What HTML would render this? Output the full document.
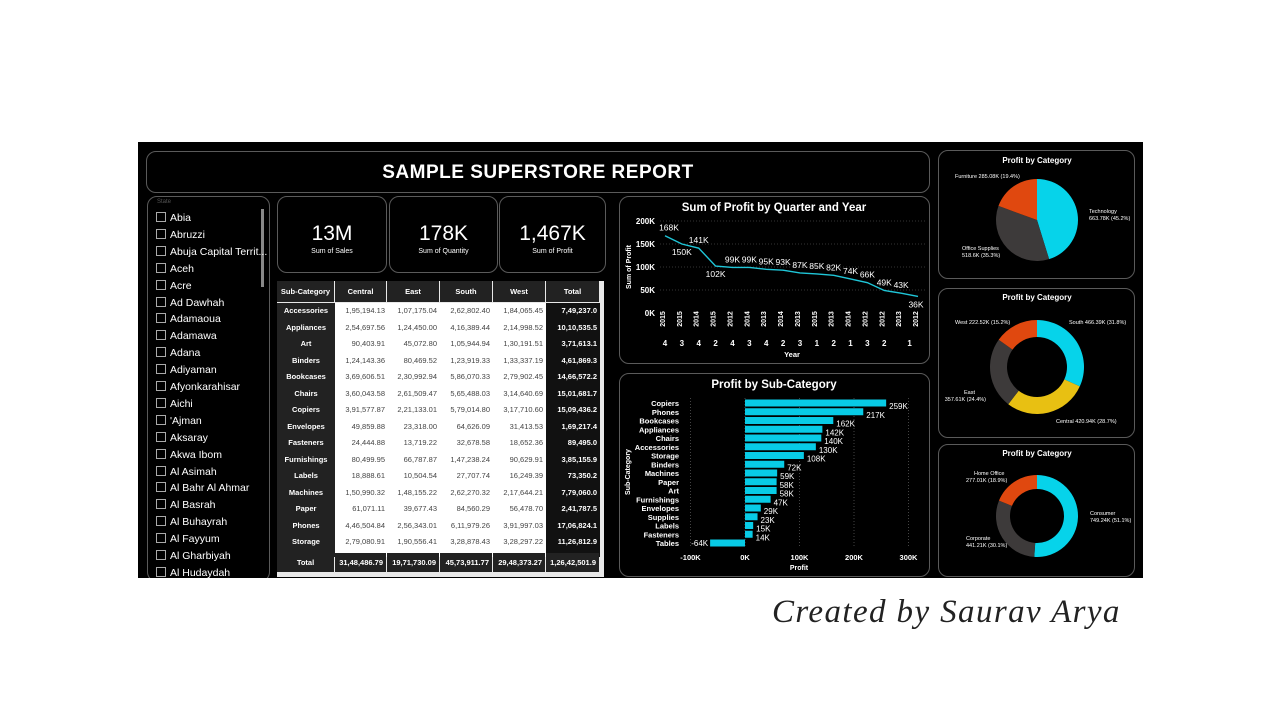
<!DOCTYPE html>
<html><head><meta charset="utf-8">
<style>
body{margin:0;width:1280px;height:720px;background:#fff;position:relative;overflow:hidden;font-family:"Liberation Sans",sans-serif}
.dash{position:absolute;left:138px;top:142px;width:1005px;height:436px;background:#000}
.box{position:absolute;border:1px solid #5a5a5a;border-radius:10px;box-sizing:border-box}
.t{position:absolute;color:#fff;white-space:nowrap}
#cap{position:absolute;left:772px;top:594px;font-family:"Liberation Serif",serif;font-style:italic;font-size:33px;color:#222;letter-spacing:1.4px}
svg text{font-family:"Liberation Sans",sans-serif}
</style></head><body>
<div class="dash"></div>
<div class="box" style="left:146px;top:151px;width:784px;height:42px">
<div class="t" style="left:0;right:0;text-align:center;top:10px;font-size:19px;font-weight:bold;letter-spacing:0.5px">SAMPLE SUPERSTORE REPORT</div></div>

<div class="box" id="slicer" style="left:147px;top:196px;width:123px;height:386px;overflow:hidden;clip-path:inset(0 0 4px 0)">
<div class="t" style="left:9px;top:2px;font-size:6px;color:#555">State</div>
<div style="position:absolute;left:113px;top:12px;width:3px;height:78px;background:#888"></div>
</div>

<div class="box" style="left:277px;top:196px;width:110px;height:77px"><div class="t" style="width:100%;text-align:center;top:25px;font-size:21px">13M</div><div class="t" style="width:100%;text-align:center;top:51px;font-size:7px">Sum of Sales</div></div>
<div class="box" style="left:389px;top:196px;width:109px;height:77px"><div class="t" style="width:100%;text-align:center;top:25px;font-size:21px">178K</div><div class="t" style="width:100%;text-align:center;top:51px;font-size:7px">Sum of Quantity</div></div>
<div class="box" style="left:499px;top:196px;width:107px;height:77px"><div class="t" style="width:100%;text-align:center;top:25px;font-size:21px">1,467K</div><div class="t" style="width:100%;text-align:center;top:51px;font-size:7px">Sum of Profit</div></div>

<div id="table" style="position:absolute;left:277px;top:281px;width:327px;height:296px;background:#e8e8e8"></div>

<div class="box" style="left:619px;top:196px;width:311px;height:168px"></div>
<div class="box" style="left:619px;top:373px;width:311px;height:204px"></div>
<div class="box" style="left:938px;top:150px;width:197px;height:129px"></div>
<div class="box" style="left:938px;top:288px;width:197px;height:150px"></div>
<div class="box" style="left:938px;top:444px;width:197px;height:133px"></div>

<svg id="svg" width="1280" height="720" style="position:absolute;left:0;top:0"></svg>
<div id="cap">Created by Saurav Arya</div>

<script>
const states=["Abia","Abruzzi","Abuja Capital Territ...","Aceh","Acre","Ad Dawhah","Adamaoua","Adamawa","Adana","Adiyaman","Afyonkarahisar","Aichi","'Ajman","Aksaray","Akwa Ibom","Al Asimah","Al Bahr Al Ahmar","Al Basrah","Al Buhayrah","Al Fayyum","Al Gharbiyah","Al Hudaydah"];
const tblRows=["Accessories","Appliances","Art","Binders","Bookcases","Chairs","Copiers","Envelopes","Fasteners","Furnishings","Labels","Machines","Paper","Phones","Storage"];
const tblCentral=["1,95,194.13","2,54,697.56","90,403.91","1,24,143.36","3,69,606.51","3,60,043.58","3,91,577.87","49,859.88","24,444.88","80,499.95","18,888.61","1,50,990.32","61,071.11","4,46,504.84","2,79,080.91"];
const tblEast=["1,07,175.04","1,24,450.00","45,072.80","80,469.52","2,30,992.94","2,61,509.47","2,21,133.01","23,318.00","13,719.22","66,787.87","10,504.54","1,48,155.22","39,677.43","2,56,343.01","1,90,556.41"];
const tblSouth=["2,62,802.40","4,16,389.44","1,05,944.94","1,23,919.33","5,86,070.33","5,65,488.03","5,79,014.80","64,626.09","32,678.58","1,47,238.24","27,707.74","2,62,270.32","84,560.29","6,11,979.26","3,28,878.43"];
const tblWest=["1,84,065.45","2,14,998.52","1,30,191.51","1,33,337.19","2,79,902.45","3,14,640.69","3,17,710.60","31,413.53","18,652.36","90,629.91","16,249.39","2,17,644.21","56,478.70","3,91,997.03","3,28,297.22"];
const tblTotal=["7,49,237.0","10,10,535.5","3,71,613.1","4,61,869.3","14,66,572.2","15,01,681.7","15,09,436.2","1,69,217.4","89,495.0","3,85,155.9","73,350.2","7,79,060.0","2,41,787.5","17,06,824.1","11,26,812.9"];
const tblFoot=["Total","31,48,486.79","19,71,730.09","45,73,911.77","29,48,373.27","1,26,42,501.9"];

const lineYears=["2015","2015","2014","2015","2012","2014","2013","2014","2013","2015","2013","2014","2012","2012","2013","2012"];
const lineQtrs=["4","3","4","2","4","3","4","2","3","1","2","1","3","2","1","1"];
const lineVals=[168,150,141,102,99,99,95,93,87,85,82,74,66,49,43,36];
const lineTicks=[0,50,100,150,200];

const barCats=["Copiers","Phones","Bookcases","Appliances","Chairs","Accessories","Storage","Binders","Machines","Paper","Art","Furnishings","Envelopes","Supplies","Labels","Fasteners","Tables"];
const barVals=[259,217,162,142,140,130,108,72,59,58,58,47,29,23,15,14,-64];
const barTicks=[-100,0,100,200,300];

const pie1Labels=["Technology","Office Supplies","Furniture"];
const pie1Vals=[663.78,518.6,285.08];
const pie2Labels=["South","Central","East","West"];
const pie2Vals=[466.39,420.94,357.61,222.52];
const pie3Labels=["Consumer","Corporate","Home Office"];
const pie3Vals=[749.24,441.21,277.01];

const NS="http://www.w3.org/2000/svg";
const svg=document.getElementById('svg');
function mk(tag,attrs,parent){const e=document.createElementNS(NS,tag);for(const k in attrs)e.setAttribute(k,attrs[k]);(parent||svg).appendChild(e);return e;}
function txt(x,y,s,size,opts){const e=mk('text',Object.assign({x:x,y:y,fill:'#fff','font-size':size},opts||{}));e.textContent=s;return e;}

// slicer
const sl=document.getElementById('slicer');
states.forEach((s,i)=>{const d=document.createElement('div');


d.style.cssText=`position:absolute;left:8px;top:${15+i*16.9}px;color:#fff;font-size:10.5px;white-space:nowrap`;
d.innerHTML=`<span style="display:inline-block;width:8px;height:8px;border:1px solid #aaa;vertical-align:-1px;margin-right:4px"></span>${s}`;sl.appendChild(d);});

// table
const tb=document.getElementById('table');
const colX=[0,58,110,163,216,269,323];
const hdr=["Sub-Category","Central","East","South","West","Total"];
function cell(l,t,w,h,bg,text,color,bold,align,fs){const d=document.createElement('div');
d.style.cssText=`position:absolute;left:${l}px;top:${t}px;width:${w}px;height:${h}px;background:${bg};color:${color};font-size:${fs||7.5}px;${bold?'font-weight:bold;':''}text-align:${align};line-height:${h}px;box-sizing:border-box;padding:0 3px;overflow:hidden;white-space:nowrap`;
d.textContent=text;tb.appendChild(d);return d;}
hdr.forEach((h,i)=>{const c=cell(colX[i],0,colX[i+1]-colX[i]-1,21,'#222',h,'#fff',true,'center',7.5);});
cell(58,22,211,254,'#fff','','#000',false,'left');
cell(0,22,58,254,'#222','','#fff',false,'left');
cell(269,22,54,254,'#111','','#fff',false,'left');
tblRows.forEach((r,i)=>{const y=22+i*16.5;
cell(0,y,58,16.5,'transparent',r,'#fff',true,'center',7.5);
[tblCentral,tblEast,tblSouth,tblWest].forEach((a,j)=>cell(colX[j+1],y,53,16.5,'transparent',a[i],'#444',false,'right',7.5));
cell(269,y,54,16.5,'transparent',tblTotal[i],'#fff',true,'right',7.5);});
tblFoot.forEach((f,i)=>cell(colX[i],272,colX[i+1]-colX[i]-1,19,'#222',f,'#fff',true,i==0?'center':'right',7.5));

// line chart
txt(774,211,'Sum of Profit by Quarter and Year',11.5,{'font-weight':'bold','text-anchor':'middle'});
const ly=v=>313-v*(92/200), lx=i=>665+i*(253/15);
lineTicks.forEach(t=>{txt(655,ly(t)+3,t+'K',8,{'font-weight':'bold','text-anchor':'end'});
if(t>0)mk('line',{x1:660,x2:925,y1:ly(t),y2:ly(t),stroke:'#333','stroke-dasharray':'1,2'});});
txt(631,267,'Sum of Profit',7,{'font-weight':'bold','text-anchor':'middle',transform:'rotate(-90 631 267)'});
mk('polyline',{points:lineVals.map((v,i)=>lx(i)+','+ly(v)).join(' '),fill:'none',stroke:'#1fc6d8','stroke-width':1.4});
lineVals.forEach((v,i)=>{const below=(i==1||i==3||i==15);
const lb=txt(lx(i)+(i==15?-2:(i==0?4:0)),ly(v)+(below?11:-5),v+'K',8.5,{'text-anchor':'middle'});

txt(lx(i)+3,322,lineYears[i],7,{'font-weight':'bold','text-anchor':'middle',transform:`rotate(-90 ${lx(i)} 322)`});
if(i<14)txt(lx(i),346,lineQtrs[i],8,{'font-weight':'bold','text-anchor':'middle'});});
txt((lx(14)+lx(15))/2,346,'1',8,{'font-weight':'bold','text-anchor':'middle'});
txt(792,357,'Year',7.5,{'font-weight':'bold','text-anchor':'middle'});

// bar chart
txt(774,388,'Profit by Sub-Category',11.5,{'font-weight':'bold','text-anchor':'middle'});
const bx=v=>745+v*0.545, by=i=>403+i*8.75;
barTicks.forEach(t=>{txt(bx(t),560,t+'K',7.5,{'font-weight':'bold','text-anchor':'middle'});
mk('line',{x1:bx(t),x2:bx(t),y1:398,y2:548,stroke:'#444','stroke-dasharray':'1,2'});});
txt(799,570,'Profit',7,{'font-weight':'bold','text-anchor':'middle'});
txt(630,472,'Sub-Category',7,{'font-weight':'bold','text-anchor':'middle',transform:'rotate(-90 630 472)'});
barCats.forEach((c,i)=>{const v=barVals[i],x0=Math.min(bx(0),bx(v));
const r=mk('rect',{x:x0,y:by(i)-3.5,width:Math.abs(bx(v)-bx(0)),height:7,fill:'#08cbe6'});

txt(679,by(i)+3,c,7.5,{'font-weight':'bold','text-anchor':'end'});
if(v>=0)txt(bx(v)+3,by(i)+6,v+'K',8,{}); else txt(bx(v)-2,by(i)+3,v+'K',8,{'text-anchor':'end'});});

// pies
const colors=['#06d3ea','#3d3a3a','#e0480f'];
function donut(cx,cy,r,ri,vals,cols,name){const tot=vals.reduce((a,b)=>a+b,0);let a=-Math.PI/2;
vals.forEach((v,i)=>{const a2=a+v/tot*2*Math.PI,lg=(a2-a)>Math.PI?1:0;
const p=(rr,an)=>[cx+rr*Math.cos(an),cy+rr*Math.sin(an)];
const [x1,y1]=p(r,a),[x2,y2]=p(r,a2);let d=`M${x1},${y1}A${r},${r} 0 ${lg} 1 ${x2},${y2}`;
if(ri>0){const [x3,y3]=p(ri,a2),[x4,y4]=p(ri,a);d+=`L${x3},${y3}A${ri},${ri} 0 ${lg} 0 ${x4},${y4}Z`;}else d+=`L${cx},${cy}Z`;
const s=mk('path',{d:d,fill:cols[i]});a=a2;});}
function fmtP(v,vals){const t=vals.reduce((a,b)=>a+b,0);return v.toFixed(2).replace(/0$/,'')+'K ('+(v/t*100).toFixed(1)+'%)';}
[[160],[297],[453]].forEach(([y])=>txt(1037,y+3,'Profit by Category',8,{'font-weight':'bold','text-anchor':'middle'}));
donut(1037,220,41,0,pie1Vals,colors,'category');
txt(1089,213,pie1Labels[0],5.5);txt(1089,220,fmtP(pie1Vals[0],pie1Vals),5.5);
txt(962,250,pie1Labels[1],5.5);txt(962,257,fmtP(pie1Vals[1],pie1Vals),5.5);
txt(955,178,pie1Labels[2]+' '+fmtP(pie1Vals[2],pie1Vals),5.5);
donut(1037,367,47,30,pie2Vals,['#06d3ea','#e8c012','#3d3a3a','#e0480f'],'region');
txt(1069,324,pie2Labels[0]+' '+fmtP(pie2Vals[0],pie2Vals),5.5);
txt(1056,423,pie2Labels[1]+' '+fmtP(pie2Vals[1],pie2Vals),5.5);
txt(975,394,pie2Labels[2],5.5,{'text-anchor':'end'});txt(986,401,fmtP(pie2Vals[2],pie2Vals),5.5,{'text-anchor':'end'});
txt(955,324,pie2Labels[3]+' '+fmtP(pie2Vals[3],pie2Vals),5.5);
donut(1037,516,41,27,pie3Vals,colors,'segment');
txt(1090,515,pie3Labels[0],5.5);txt(1090,522,fmtP(pie3Vals[0],pie3Vals),5.5);
txt(966,540,pie3Labels[1],5.5);txt(966,547,fmtP(pie3Vals[1],pie3Vals),5.5);
txt(974,475,pie3Labels[2],5.5);txt(966,482,fmtP(pie3Vals[2],pie3Vals),5.5);
</script>
</body></html>
